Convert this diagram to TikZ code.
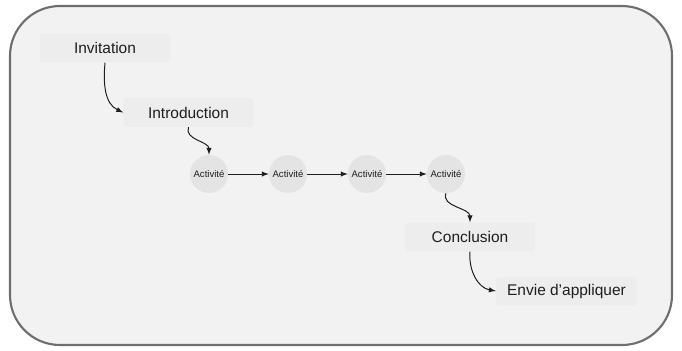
\documentclass[tikz,border=0pt]{standalone}
\usepackage{fontspec}
\setmainfont{Liberation Sans}
\usepackage{tikz}
\usetikzlibrary{arrows}

\definecolor{cadre}{HTML}{6E6E6E}
\definecolor{fond}{HTML}{F2F2F2}
\definecolor{boite}{HTML}{EDEDED}
\definecolor{rond}{HTML}{E4E4E4}
\definecolor{texte}{HTML}{1E1E1E}

\begin{document}
\begin{tikzpicture}[x=0.025cm,y=0.025cm,
    etape/.style={fill=boite,rounded corners=2pt,minimum width=3.25cm,
      minimum height=0.72cm,inner sep=0pt,text=texte,font=\fontsize{11}{13}\selectfont},
    activite/.style={circle,fill=rond,minimum size=0.95cm,inner sep=0pt,
      text=texte,font=\fontsize{6.8}{8}\selectfont},
    fleche/.style={-latex,line width=0.7pt,texte}]
  \useasboundingbox (0,0) rectangle (682,-350);
  \draw[cadre,fill=fond,line width=1.5pt,rounded corners=1.25cm] (10,-6) rectangle (672,-345);
  \node[etape] (invitation) at (105,-48) {Invitation};
  \node[etape] (introduction) at (188.5,-112.5) {Introduction};
  \node[activite] (act1) at (209,-174) {Activité};
  \node[activite] (act2) at (288,-174) {Activité};
  \node[activite] (act3) at (367,-174) {Activité};
  \node[activite] (act4) at (446,-174) {Activité};
  \node[etape] (conclusion) at (470,-237) {Conclusion};
  \node[etape,minimum width=3.52cm] (envie) at (566.5,-291) {Envie d’appliquer};
  \draw [fleche] (invitation.south) to[out=-95,in=155] (introduction.west);
  \draw [fleche] (introduction.south) to[out=-110,in=90] (act1.north);
  \draw [fleche] (act1) -- (act2);
  \draw [fleche] (act2) -- (act3);
  \draw [fleche] (act3) -- (act4);
  \draw [fleche] (act4.south) to[out=-110,in=90] (conclusion.north);
  \draw [fleche] (conclusion.south) to[out=-95,in=170] (envie.west);
\end{tikzpicture}
\end{document}
